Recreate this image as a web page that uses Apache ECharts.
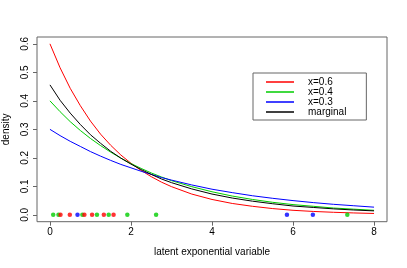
<!DOCTYPE html>
<html>
<head>
<meta charset="utf-8">
<script src="https://cdn.jsdelivr.net/npm/echarts@6/dist/echarts.min.js"></script>
<style>html,body{margin:0;padding:0;background:#fff}#c{width:407px;height:268px}</style>
</head>
<body>
<div id="c"></div>
<script>
// x values at which the curves were read
var xs = [0,0.25,0.5,0.75,1,1.25,1.5,1.75,2,2.25,2.5,2.75,3,3.5,4,4.5,5,5.5,6,6.5,7,7.5,8];
var dens06 = [0.600,0.516,0.444,0.383,0.329,0.283,0.244,0.210,0.181,0.156,0.134,0.115,0.099,0.073,0.054,0.040,0.030,0.022,0.016,0.012,0.009,0.0067,0.0049];
var dens04 = [0.400,0.362,0.327,0.296,0.268,0.243,0.220,0.199,0.180,0.163,0.147,0.133,0.120,0.099,0.081,0.066,0.054,0.044,0.036,0.030,0.024,0.020,0.016];
var dens03 = [0.300,0.278,0.258,0.240,0.222,0.206,0.191,0.177,0.165,0.153,0.142,0.131,0.122,0.105,0.090,0.078,0.067,0.058,0.050,0.043,0.037,0.032,0.027];
var densMarg = [0.456,0.402,0.357,0.317,0.281,0.251,0.223,0.199,0.178,0.159,0.142,0.126,0.113,0.091,0.073,0.059,0.048,0.039,0.031,0.026,0.021,0.017,0.014];
// observed latent values (drawn on the zero line)
var ptsRed = [0.26,0.49,0.85,1.04,1.33,1.57];
var ptsGreen = [0.08,0.21,0.80,1.16,1.45,1.91,2.62,7.34];
var ptsBlue = [0.68,5.85,6.49];
var xTicks = [0,2,4,6,8];
var yTicks = [0,0.1,0.2,0.3,0.4,0.5,0.6];
var names = ['x=0.6','x=0.4','x=0.3','marginal'];

var FONT = 'Liberation Sans';
function pairs(ys){ return xs.map(function(x,i){ return [x, ys[i]]; }); }
function pts(arr){ return arr.map(function(x){ return [x,0]; }); }
function lineSeries(name, ys, color){
  return {name:name, type:'line', data:pairs(ys), smooth:false, showSymbol:false, symbol:'none',
    lineStyle:{color:color, width:1, join:'round'}, itemStyle:{color:color}, silent:true, animation:false, z:2};
}
function ptSeries(arr, color){
  return {type:'scatter', data:pts(arr), symbolSize:4.5, itemStyle:{color:color}, silent:true, animation:false, z:3};
}
var chart = echarts.init(document.getElementById('c'), null, {renderer:'canvas'});
chart.setOption({
  backgroundColor:'#fff',
  animation:false,
  textStyle:{fontFamily:FONT},
  grid:{left:37, top:37, width:350, height:184.7, containLabel:false, outerBoundsMode:'none',
    show:true, borderColor:'#666', borderWidth:1, backgroundColor:'transparent'},
  xAxis:{type:'value', min:-0.32, max:8.32,
    name:'latent exponential variable', nameLocation:'middle', nameGap:26,
    nameTextStyle:{fontFamily:FONT, fontSize:10, color:'#000'},
    axisLine:{show:false, onZero:false},
    axisTick:{show:true, length:4, lineStyle:{color:'#666'}, customValues:xTicks},
    axisLabel:{fontFamily:FONT, fontSize:10, color:'#000', margin:6, customValues:xTicks},
    splitLine:{show:false}},
  yAxis:{type:'value', min:-0.024, max:0.624,
    name:'density', nameLocation:'middle', nameGap:26, nameRotate:90,
    nameTextStyle:{fontFamily:FONT, fontSize:10, color:'#000'},
    axisLine:{show:false, onZero:false},
    axisTick:{show:true, length:4, lineStyle:{color:'#666'}, customValues:yTicks},
    axisLabel:{fontFamily:FONT, fontSize:10, color:'#000', margin:7, rotate:90,
      customValues:yTicks, formatter:function(v){ return v.toFixed(1); }},
    splitLine:{show:false}},
  legend:{data:names, orient:'vertical', left:253, top:73,
    padding:[4,20,3,13], itemGap:0, itemWidth:28, itemHeight:1.5, icon:'rect',
    borderColor:'#666', borderWidth:1, backgroundColor:'#fff',
    selectedMode:false,
    textStyle:{fontFamily:FONT, fontSize:10, color:'#000', lineHeight:9, padding:[0,0,0,9]}},
  series:[
    lineSeries(names[0], dens06, '#ff0000'),
    lineSeries(names[1], dens04, '#00cd00'),
    lineSeries(names[2], dens03, '#0000ff'),
    lineSeries(names[3], densMarg, '#000000'),
    ptSeries(ptsGreen, '#00cd00'),
    ptSeries(ptsRed, '#ff0000'),
    ptSeries(ptsBlue, '#0000ff')
  ]
});
</script>
</body>
</html>
